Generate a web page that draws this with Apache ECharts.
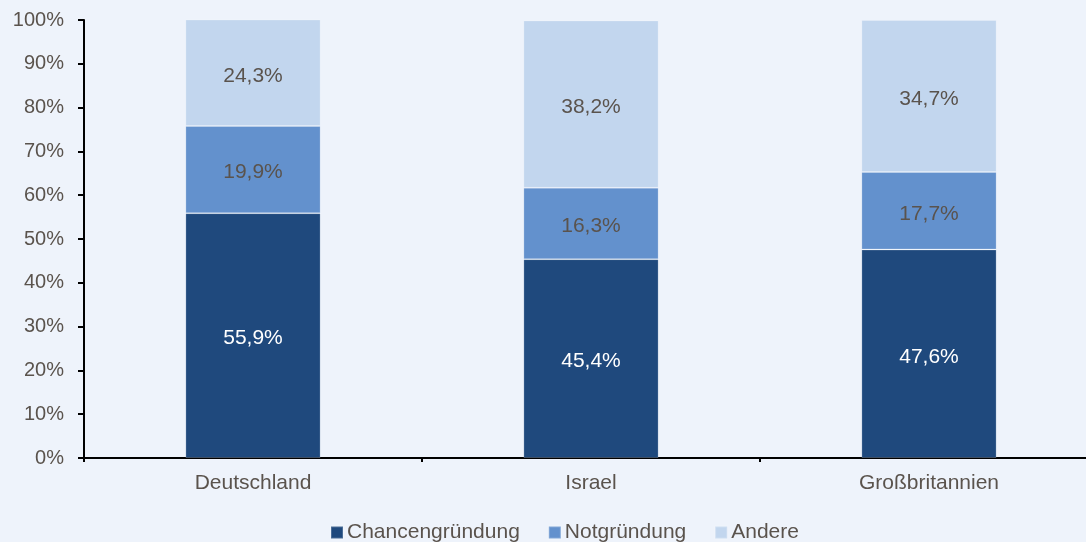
<!DOCTYPE html>
<head>
    <meta charset="utf-8">
    <script type="text/javascript" src="https://cdn.jsdelivr.net/npm/echarts@6/dist/echarts.min.js"></script>
    <style>
        html, body { margin: 0; padding: 0; background: #EEF3FB; }
    </style>
</head>
<body>
	<div id="main" style="width:1086px; height:542px"></div>
	<script type="text/javascript">
		var categories = ["Deutschland", "Israel", "Großbritannien"];
		var chancen = [55.9, 45.4, 47.6];
		var not = [19.9, 16.3, 17.7];
		var andere = [24.3, 38.2, 34.7];
		var yTicks = [0, 10, 20, 30, 40, 50, 60, 70, 80, 90, 100];

		var fontFam = '"Liberation Sans", Arial, sans-serif';
		var textCol = '#5A534D';

		function fmt(v) {
			return v.toFixed(1).replace(".", ",") + "%";
		}

		function makeSeries(name, values, color, labelColor) {
			return {
				name: name,
				type: 'bar',
				stack: 'total',
				barWidth: '40%',
				data: values,
				itemStyle: {
					color: color,
					borderColor: 'rgba(255,255,255,0.2)',
					borderWidth: 1
				},
				label: {
					show: true,
					position: 'inside',
					offset: [0, 3],
					color: labelColor,
					fontFamily: fontFam,
					fontSize: 21,
					formatter: function (p) { return fmt(p.value); }
				}
			};
		}

		var myChart = echarts.init(document.getElementById('main'));
		var option = {
			backgroundColor: '#EEF3FB',
			animation: false,
			grid: {
				left: 84,
				top: 20,
				width: 1014,
				height: 438,
				outerBoundsMode: 'none'
			},
			legend: {
				top: 517,
				left: 325,
				itemWidth: 12,
				itemHeight: 12,
				itemGap: 28,
				icon: 'rect',
				textStyle: {
					color: textCol,
					fontFamily: fontFam,
					fontSize: 21,
					padding: [0, 0, 0, -1]
				},
				data: ['Chancengründung', 'Notgründung', 'Andere']
			},
			xAxis: {
				type: 'category',
				data: categories,
				axisLine: { lineStyle: { color: '#000', width: 2 } },
				axisTick: { show: true, length: 4, lineStyle: { color: '#000', width: 2 } },
				axisLabel: {
					color: textCol,
					fontFamily: fontFam,
					fontSize: 21,
					margin: 15
				}
			},
			yAxis: {
				type: 'value',
				min: 0,
				max: 100,
				interval: 10,
				axisLine: { show: true, lineStyle: { color: '#000', width: 2 } },
				axisTick: { show: true, length: 6, lineStyle: { color: '#000', width: 2 } },
				splitLine: { show: false },
				axisLabel: {
					color: textCol,
					fontFamily: fontFam,
					fontSize: 20,
					margin: 20,
					formatter: function (v) {
						return yTicks.indexOf(v) >= 0 ? v + "%" : "";
					}
				}
			},
			series: [
				makeSeries('Chancengründung', chancen, '#1F497D', '#FFFFFF'),
				makeSeries('Notgründung', not, '#6391CD', textCol),
				makeSeries('Andere', andere, '#C2D6EE', textCol)
			]
		};

		myChart.setOption(option);
	</script>
</body>
